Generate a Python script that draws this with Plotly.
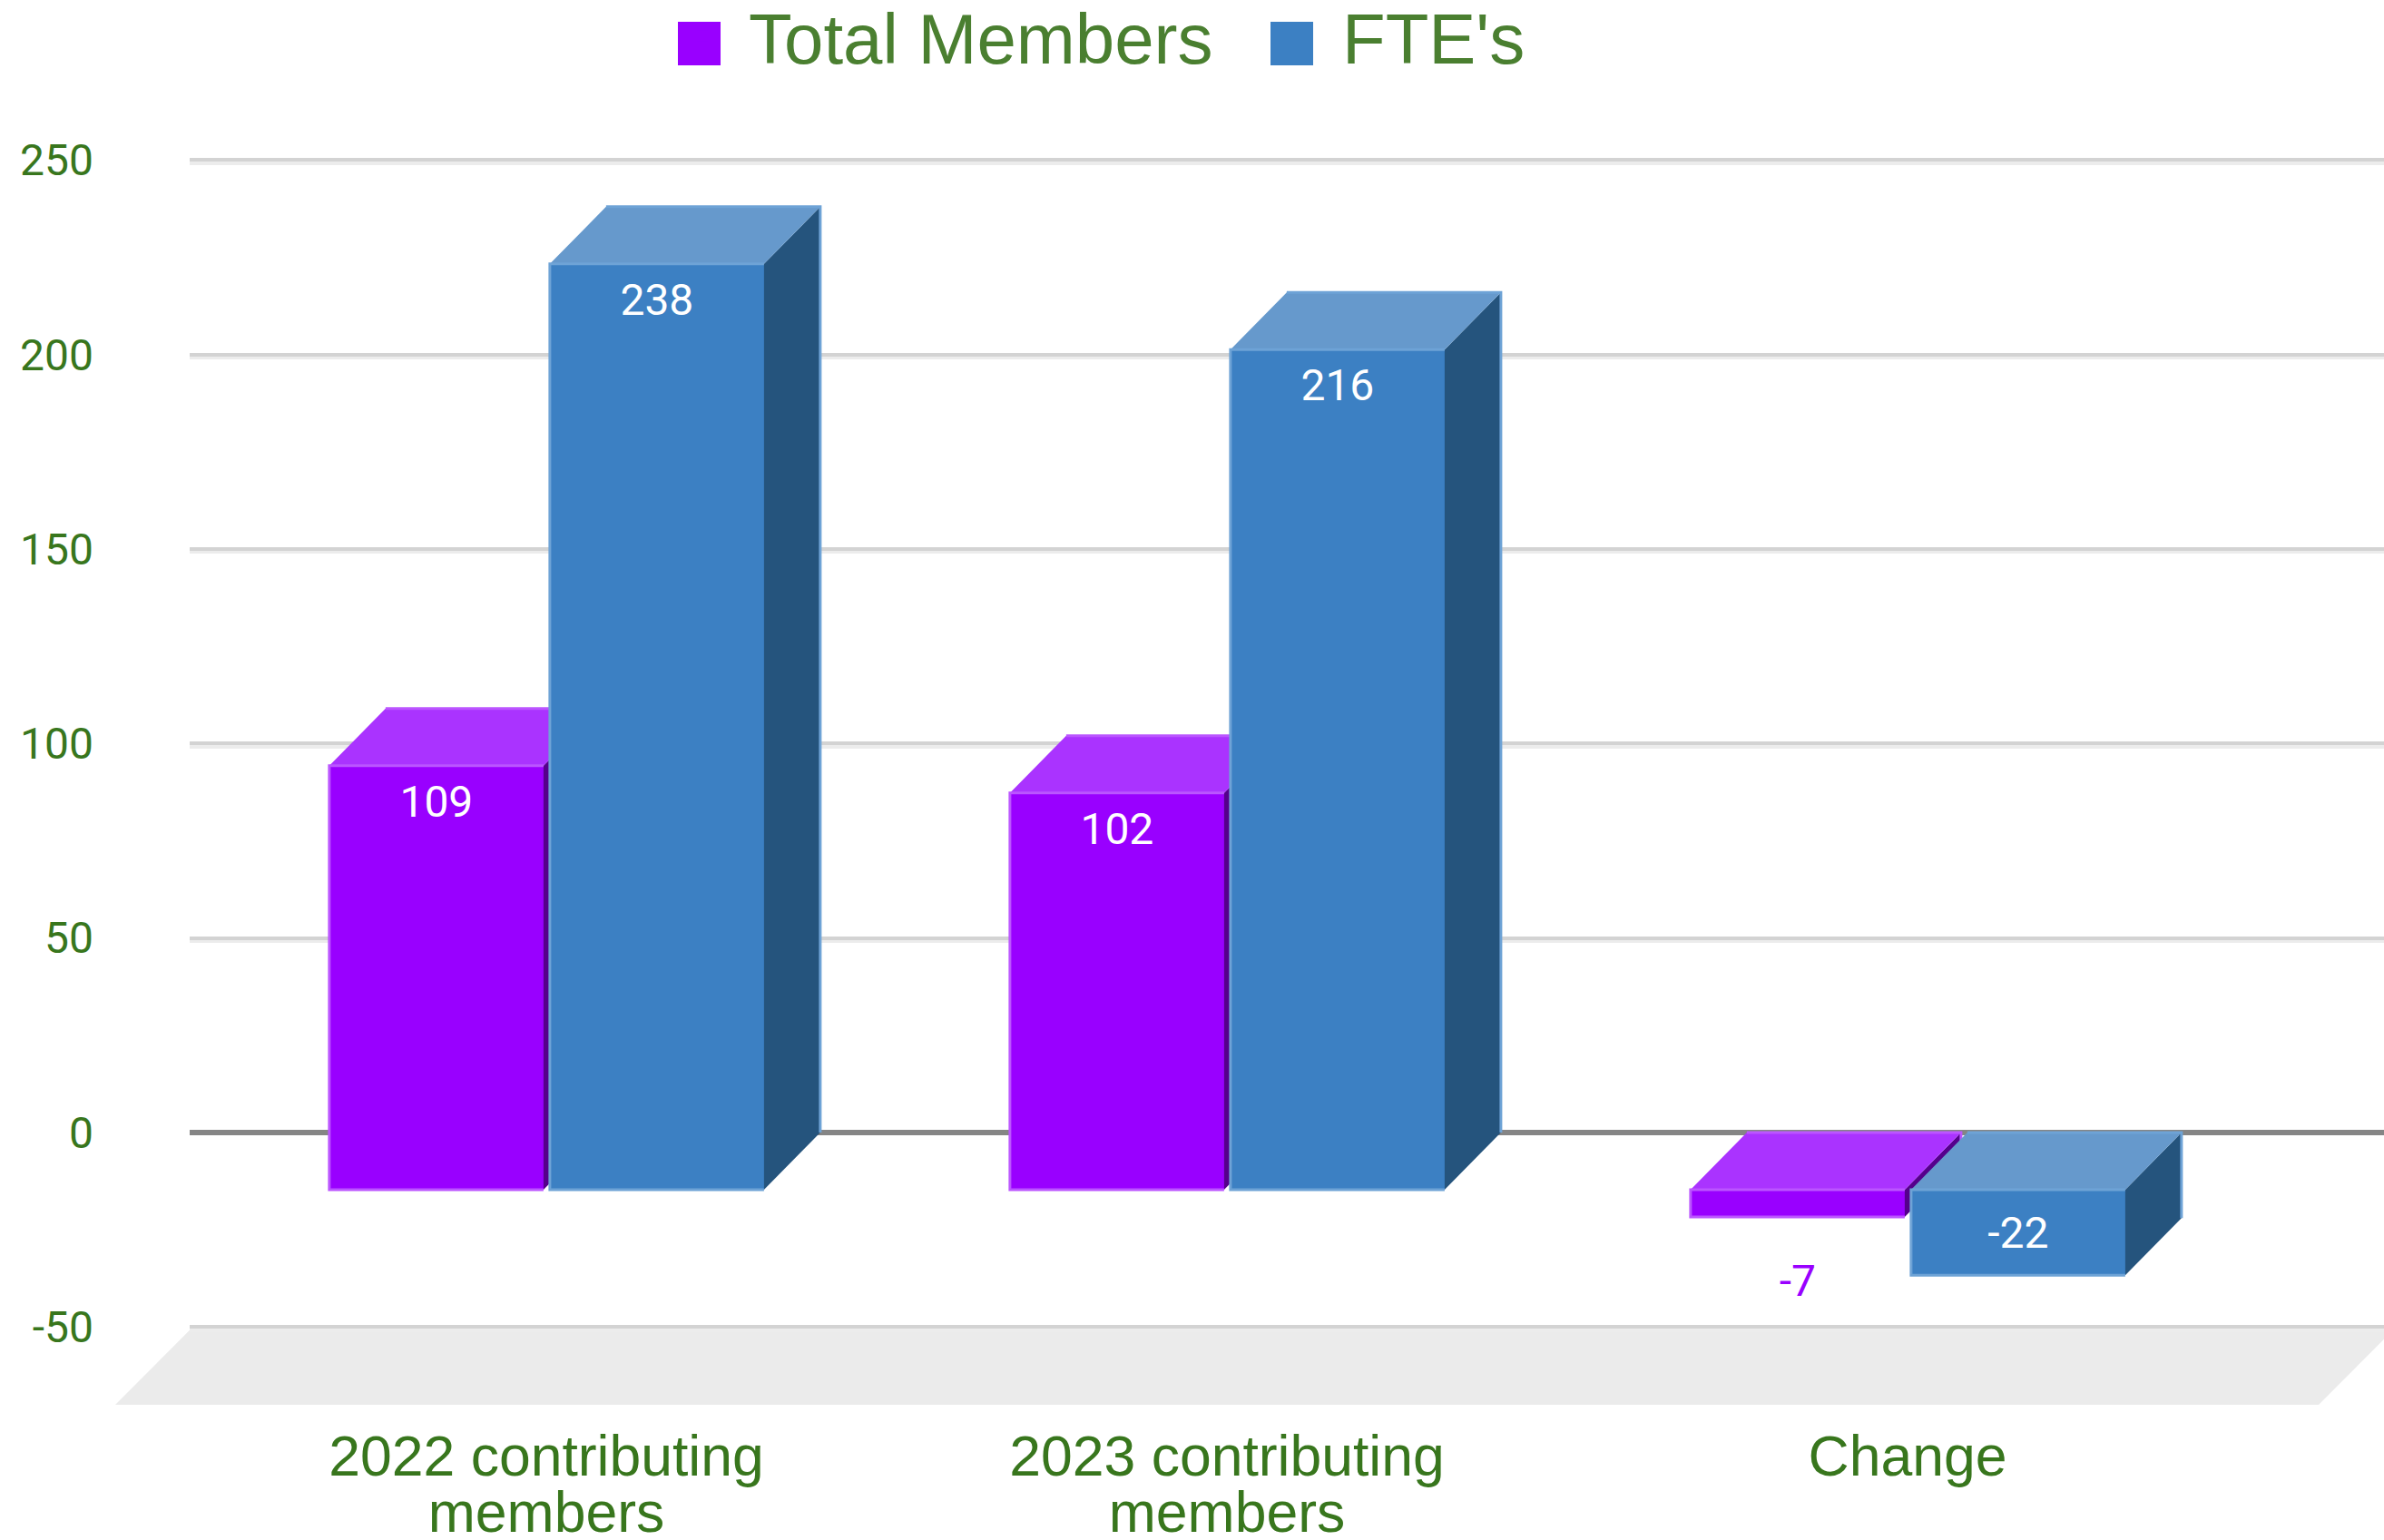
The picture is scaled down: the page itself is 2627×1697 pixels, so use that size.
import plotly.graph_objects as go

categories = [["2022 contributing", "members"], ["2023 contributing", "members"], ["Change"]]
series_names = ["Total Members", "FTE's"]
total_members = [109, 102, -7]
ftes = [238, 216, -22]
y_ticks = [-50, 0, 50, 100, 150, 200, 250]

FIG_W, FIG_H = 2627, 1697
M_L, M_R, M_T, M_B = 209, 0, 155, 149
PLOT_W = FIG_W - M_L - M_R
PLOT_H = FIG_H - M_T - M_B
X_RANGE = [-0.524, 2.7]
Y_RANGE = [-70, 255]
PX_X = PLOT_W / (X_RANGE[1] - X_RANGE[0])
PX_Y = PLOT_H / (Y_RANGE[1] - Y_RANGE[0])

DEPTH_X = 62 / PX_X
DEPTH_Y = 14.7
FLOOR_X = 82 / PX_X
BAR_W = 236 / PX_X
OFFSETS = [-0.1615, 0.1625]

styles = [
    dict(front="#9900ff", top="#aa33ff", side="#55008c", edge="#bb55ff"),
    dict(front="#3c80c3", top="#6699cc", side="#25547d", edge="#6ea3d6"),
]
GREEN = "#38761d"
LEGEND_GREEN = "#4a7f30"


def add_box_faces(fig, values, off, st, xa, ya):
    xs = [i + off for i in range(len(values))]
    side_x, side_y, top_x, top_y, edge_x, edge_y = [], [], [], [], [], []
    for x, v in zip(xs, values):
        x0, x1 = x - BAR_W / 2, x + BAR_W / 2
        hi = max(v, 0) - DEPTH_Y
        lo = min(v, 0) - DEPTH_Y
        side_x += [x1, x1 + DEPTH_X, x1 + DEPTH_X, x1, x1, None]
        side_y += [lo, lo + DEPTH_Y, hi + DEPTH_Y, hi, lo, None]
        top_x += [x0, x0 + DEPTH_X, x1 + DEPTH_X, x1, x0, None]
        top_y += [hi, hi + DEPTH_Y, hi + DEPTH_Y, hi, hi, None]
        edge_x += [x1, x0, x0, x1, None, x0 + DEPTH_X, x1 + DEPTH_X, x1 + DEPTH_X, None]
        edge_y += [hi, hi, lo, lo, None, hi + DEPTH_Y, hi + DEPTH_Y, lo + DEPTH_Y, None]
    for fx, fy, col in ((side_x, side_y, st["side"]), (top_x, top_y, st["top"])):
        fig.add_trace(go.Scatter(x=fx, y=fy, mode="lines", fill="toself", fillcolor=col,
                                 line=dict(width=0, color=col), showlegend=False,
                                 hoverinfo="skip", xaxis=xa, yaxis=ya, cliponaxis=False))
    fig.add_trace(go.Scatter(x=edge_x, y=edge_y, mode="lines", line=dict(width=3, color=st["edge"]),
                             showlegend=False, hoverinfo="skip", xaxis=xa, yaxis=ya, cliponaxis=False))


def add_labels(fig, values, off, st, xa, ya):
    xs, ys, colours = [], [], []
    for i, v in enumerate(values):
        xs.append(i + off)
        if v > 0:
            ys.append(v - DEPTH_Y - 44 / PX_Y)
            colours.append("#ffffff")
        elif abs(v) * PX_Y > 60:
            ys.append(v - DEPTH_Y + 42 / PX_Y)
            colours.append("#ffffff")
        else:
            ys.append(v - DEPTH_Y - 75 / PX_Y)
            colours.append(st["front"])
    fig.add_trace(go.Scatter(x=xs, y=ys, mode="text", text=[str(v) for v in values],
                             textposition="middle center",
                             textfont=dict(family="Roboto", size=48, color=colours),
                             showlegend=False, hoverinfo="skip", xaxis=xa, yaxis=ya, cliponaxis=False))


fig = go.Figure()

for values, off, st, name, xa, ya in (
    (total_members, OFFSETS[0], styles[0], series_names[0], "x", "y"),
    (ftes, OFFSETS[1], styles[1], series_names[1], "x2", "y2"),
):
    fig.add_trace(go.Bar(x=[i + off for i in range(len(values))], y=values,
                         base=[-DEPTH_Y] * len(values), width=BAR_W, name=name,
                         marker=dict(color=st["front"], line=dict(width=0)),
                         xaxis=xa, yaxis=ya, hoverinfo="skip"))
    add_box_faces(fig, values, off, st, xa, ya)

add_labels(fig, total_members, OFFSETS[0], styles[0], "x2", "y2")
add_labels(fig, ftes, OFFSETS[1], styles[1], "x2", "y2")


def paper_x(px):
    return (px - M_L) / PLOT_W


def paper_y(px):
    return (FIG_H - M_B - px) / PLOT_H


def floor_path():
    fy = (-50.8 - Y_RANGE[0]) / (Y_RANGE[1] - Y_RANGE[0])
    fx = FLOOR_X / (X_RANGE[1] - X_RANGE[0])
    right = 1 + 10 / PLOT_W
    return f"M 0 {fy} L {-fx} 0 L {right - fx} 0 L {right} {fy} Z"


tick_text = ["<br>".join(f'<span style="font-size:62.5px">{t}</span>' for t in c) for c in categories]

shapes = [
    dict(type="path", xref="paper", yref="paper", path=floor_path(), fillcolor="#ebebeb",
         line=dict(width=0), layer="below")
] + [
    dict(type="rect", xref="paper", yref="paper", x0=paper_x(x0), x1=paper_x(x0 + 47),
         y0=paper_y(72), y1=paper_y(24), fillcolor=st["front"], line=dict(width=0), layer="above")
    for x0, st in ((747, styles[0]), (1400, styles[1]))
]

fig.update_layout(
    width=FIG_W, height=FIG_H,
    margin=dict(l=M_L, r=M_R, t=M_T, b=M_B, pad=0, autoexpand=False),
    paper_bgcolor="#ffffff", plot_bgcolor="rgba(0,0,0,0)",
    barmode="overlay", bargap=0, hovermode=False,
    showlegend=True,
    legend=dict(orientation="h", x=paper_x(723), xanchor="left", y=paper_y(40), yanchor="middle",
                itemwidth=92, entrywidth=547, entrywidthmode="pixels", bgcolor="rgba(0,0,0,0)",
                font=dict(family="Liberation Sans", size=78, color=LEGEND_GREEN), traceorder="normal"),
    xaxis=dict(range=X_RANGE, tickmode="array", tickvals=list(range(len(categories))), ticktext=tick_text,
               showgrid=False, zeroline=False, showline=False, ticks="",
               ticklabelstandoff=29,
               tickfont=dict(family="Liberation Sans", size=47.7, color=GREEN), tickangle=0),
    yaxis=dict(range=Y_RANGE, tickmode="array", tickvals=y_ticks, ticktext=[str(v) for v in y_ticks],
               showgrid=True, gridcolor="#d3d3d3", gridwidth=3.5,
               zeroline=True, zerolinecolor="#858585", zerolinewidth=6,
               showline=False, ticks="", ticklabelstandoff=105,
               tickfont=dict(family="Roboto", size=48, color=GREEN),
               minor=dict(tickmode="array", tickvals=[v - 0.8 for v in y_ticks if v != 0],
                          showgrid=True, gridcolor="#ececec", gridwidth=3.5, ticks="")),
    xaxis2=dict(range=X_RANGE, overlaying="x", visible=False),
    yaxis2=dict(range=Y_RANGE, overlaying="y", visible=False),
    shapes=shapes,
)

fig.write_html("out.html", include_plotlyjs=True, config=dict(displayModeBar=False),
               post_script="document.body.style.margin='0';document.documentElement.style.overflow='hidden';")
